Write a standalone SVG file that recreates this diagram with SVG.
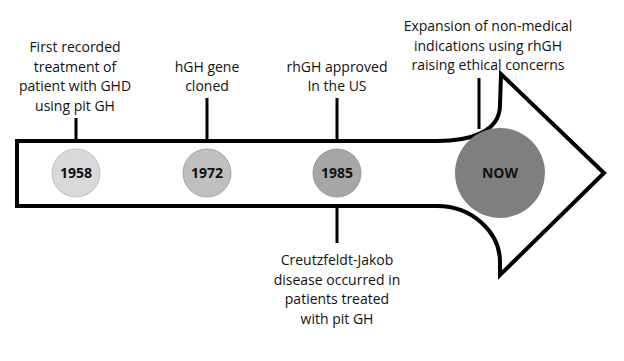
<svg xmlns="http://www.w3.org/2000/svg" width="624" height="361" viewBox="0 0 624 361">
<style>
.lbl{font-family:"Open Sans","Liberation Sans",sans-serif;font-size:14px;fill:#111;text-anchor:middle}
.yr{font-family:"Open Sans","Liberation Sans",sans-serif;font-size:14px;font-weight:bold;fill:#111;text-anchor:middle}
.ln{stroke:#000;stroke-width:3;fill:none}
</style>
<rect width="624" height="361" fill="#fff"/>
<g id="arrow">
<path d="M17,141 L437,141 C470,141 500,132 500,105 L501,74 L604,173 L500,275 L500,262 C500,232 472,206 437,206 L17,206 Z" fill="#fff" stroke="#000" stroke-width="4" stroke-linejoin="miter"/>
</g>
<g id="connectors">
<line class="ln" x1="76" y1="118" x2="76" y2="141"/>
<line class="ln" x1="207" y1="98" x2="207" y2="141"/>
<line class="ln" x1="337" y1="98" x2="337" y2="141"/>
<line class="ln" x1="337" y1="206" x2="337" y2="243"/>
<line class="ln" x1="479" y1="78" x2="479" y2="129"/>
</g>
<g id="n1958">
<circle cx="76" cy="173" r="24" fill="#d9d9d9" stroke="#bfbfbf" stroke-width="1"/>
<text class="yr" x="76" y="178">1958</text>
<text class="lbl" x="75" y="52">First recorded</text>
<text class="lbl" x="75" y="71.5">treatment of</text>
<text class="lbl" x="75" y="91">patient with GHD</text>
<text class="lbl" x="75" y="110.5">using pit GH</text>
</g>
<g id="n1972">
<circle cx="207" cy="173" r="24" fill="#bfbfbf" stroke="#a6a6a6" stroke-width="1"/>
<text class="yr" x="207" y="178">1972</text>
<text class="lbl" x="207" y="71.5">hGH gene</text>
<text class="lbl" x="207" y="91">cloned</text>
</g>
<g id="n1985">
<circle cx="337" cy="173" r="24" fill="#a6a6a6" stroke="#999" stroke-width="1"/>
<text class="yr" x="337" y="178">1985</text>
<text class="lbl" x="337" y="71.5">rhGH approved</text>
<text class="lbl" x="337" y="91">In the US</text>
<text class="lbl" x="337" y="265">Creutzfeldt-Jakob</text>
<text class="lbl" x="337" y="284.5">disease occurred in</text>
<text class="lbl" x="337" y="304">patients treated</text>
<text class="lbl" x="337" y="323.5">with pit GH</text>
</g>
<g id="now">
<circle cx="500" cy="173" r="45" fill="#7f7f7f"/>
<text class="yr" x="500" y="178">NOW</text>
<text class="lbl" x="488" y="31">Expansion of non-medical</text>
<text class="lbl" x="488" y="50.5">indications using rhGH</text>
<text class="lbl" x="488" y="70">raising ethical concerns</text>
</g>
</svg>
